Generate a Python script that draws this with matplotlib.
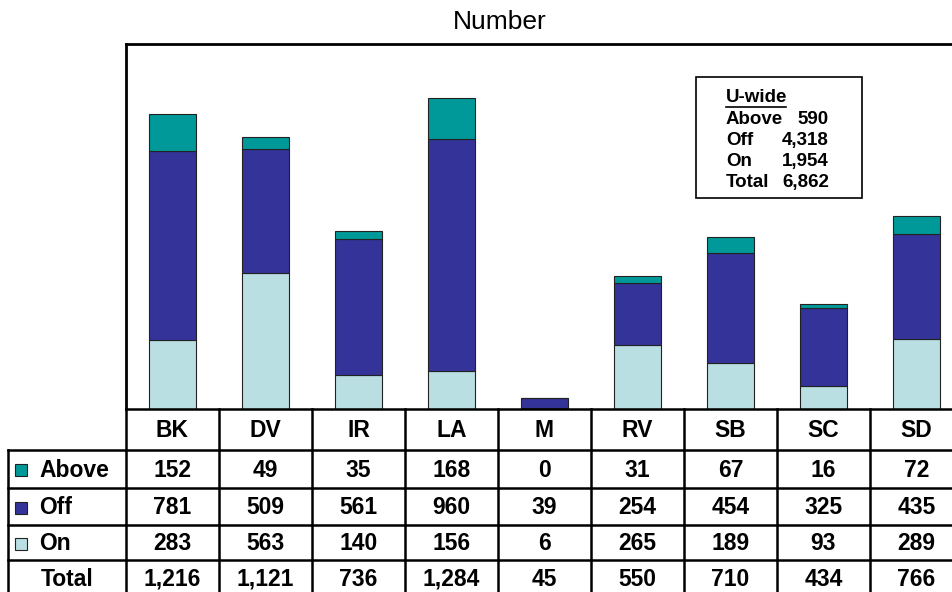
import matplotlib
matplotlib.use("Agg")
import matplotlib.pyplot as plt
from matplotlib.patches import Rectangle

plt.rcParams['font.family'] = ['Liberation Sans', 'DejaVu Sans']

# data
campuses = ['BK', 'DV', 'IR', 'LA', 'M', 'RV', 'SB', 'SC', 'SD']
above = [152, 49, 35, 168, 0, 31, 67, 16, 72]
off = [781, 509, 561, 960, 39, 254, 454, 325, 435]
on = [283, 563, 140, 156, 6, 265, 189, 93, 289]
totals = ['1,216', '1,121', '736', '1,284', '45', '550', '710', '434', '766']
series_names = ['Above', 'Off', 'On']
colors = ['#009999', '#333399', '#B9DFE2']
uwide_labels = ['Above', 'Off', 'On', 'Total']
uwide_values = ['590', '4,318', '1,954', '6,862']

W, H = 953, 592


def fx(px):
    return px / W


def fy(py):
    return 1 - py / H


def create_plot():
    fig = plt.figure(figsize=(W / 100, H / 100), dpi=100)

    # bar area
    ax = fig.add_axes([fx(126), fy(409), fx(963 - 126), (409 - 44) / H])
    x = list(range(len(campuses)))
    bottom_off = on
    bottom_above = [a + b for a, b in zip(on, off)]
    ax.bar(x, on, width=0.5, color=colors[2], edgecolor='#222222', linewidth=0.8)
    ax.bar(x, off, width=0.5, bottom=bottom_off, color=colors[1],
           edgecolor='#222222', linewidth=0.8)
    ax.bar(x, above, width=0.5, bottom=bottom_above, color=colors[0],
           edgecolor='#222222', linewidth=0.8)
    ax.set_xlim(-0.5, len(campuses) - 0.5)
    ax.set_ylim(0, 1507)
    ax.set_xticks([])
    ax.set_yticks([])
    ax.spines['right'].set_visible(False)
    ax.spines['bottom'].set_visible(False)
    ax.spines['left'].set_linewidth(2)
    ax.spines['top'].set_linewidth(2)

    fig.text(fx(500), fy(22), 'Number', ha='center', va='center', fontsize=19)

    # U-wide box
    fig.patches.append(Rectangle((fx(696), fy(198)), fx(862 - 696), (198 - 77) / H,
                                 transform=fig.transFigure, fill=False,
                                 edgecolor='black', linewidth=1.2))
    fs_box = 13.5
    fig.text(fx(726), fy(98), 'U-wide', ha='left', va='center', fontsize=fs_box,
             fontweight='bold')
    fig.lines.append(plt.Line2D([fx(726), fx(786)], [fy(107), fy(107)],
                                transform=fig.transFigure, color='black', lw=1.2))
    for i, (lab, val) in enumerate(zip(uwide_labels, uwide_values)):
        yy = fy(119 + i * 21.3)
        fig.text(fx(726), yy, lab, ha='left', va='center', fontsize=fs_box,
                 fontweight='bold')
        fig.text(fx(829), yy, val, ha='right', va='center', fontsize=fs_box,
                 fontweight='bold')

    # data table
    label_w = 118 / 93
    x_left = -0.5 - label_w
    tbl = fig.add_axes([fx(8), fy(600), fx(963 - 8), (600 - 409) / H])
    tbl.set_xlim(x_left, len(campuses) - 0.5)
    tbl.set_ylim(191, 0)
    tbl.axis('off')
    row_edges = [0, 41, 79, 116, 151, 191]
    lw = 1.8

    # horizontal lines
    for y in row_edges[1:-1]:
        tbl.plot([x_left, len(campuses) - 0.5], [y, y], color='black', lw=lw,
                 clip_on=False, solid_capstyle='projecting')
    tbl.plot([-0.5, len(campuses) - 0.5], [0, 0], color='black', lw=lw,
             clip_on=False)
    # vertical lines
    for i in range(len(campuses) + 1):
        tbl.plot([i - 0.5, i - 0.5], [0, 191], color='black', lw=lw, clip_on=False)
    tbl.plot([x_left, x_left], [row_edges[1], 191], color='black', lw=lw, clip_on=False)

    def mid(r):
        return (row_edges[r] + row_edges[r + 1]) / 2 + 1

    # total row sits near the bottom edge, keep its text inside the picture
    total_y = row_edges[4] + 19

    fs = 16.5
    for i, c in enumerate(campuses):
        tbl.text(i, mid(0), c, ha='center', va='center', fontsize=fs, fontweight='bold')
        tbl.text(i, mid(1), str(above[i]), ha='center', va='center', fontsize=fs,
                 fontweight='bold')
        tbl.text(i, mid(2), str(off[i]), ha='center', va='center', fontsize=fs,
                 fontweight='bold')
        tbl.text(i, mid(3), str(on[i]), ha='center', va='center', fontsize=fs,
                 fontweight='bold')
        tbl.text(i, total_y, totals[i], ha='center', va='center', fontsize=fs,
                 fontweight='bold')

    # row labels with legend keys
    sq = 12
    for r, (name, col) in enumerate(zip(series_names, colors)):
        yc = mid(r + 1)
        key = Rectangle((x_left + 7 / 93, yc - sq / 2), sq / 93, sq,
                        facecolor=col, edgecolor='#222222', linewidth=0.8)
        tbl.add_patch(key)
        tbl.text(x_left + 31 / 93, yc, name, ha='left', va='center', fontsize=fs,
                 fontweight='bold')
    tbl.text(x_left + label_w / 2, total_y, 'Total', ha='center', va='center',
             fontsize=fs, fontweight='bold')

    fig.savefig('out.png', dpi=100)


if __name__ == "__main__":
    create_plot()
